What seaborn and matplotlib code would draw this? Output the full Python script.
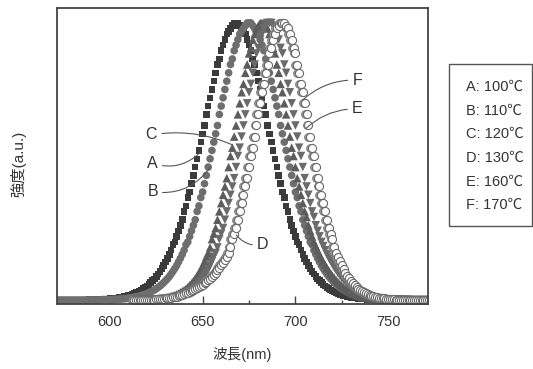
import numpy as np
import matplotlib
matplotlib.use("Agg")
import matplotlib.pyplot as plt
import seaborn as sns
from matplotlib.patches import Rectangle
from matplotlib.ticker import MultipleLocator

# ---------------- data (intensity, a.u., 1 nm step) ----------------
start_A = 572   # nm of first value in each list
start_B = 572
start_C = 612
start_D = 616
start_E = 612
start_F = 613

int_A = [0,0,0,0,0,0,0,0,0,0,0,
         0.1,0.1,0.1,0.1,0.1,0.1,0.2,0.2,0.2,0.2,0.2,0.2,
         0.3,0.3,0.3,0.4,0.4,0.5,0.5,0.6,0.7,0.8,0.9,1.0,1.2,1.3,
         1.5,1.7,1.9,2.1,2.4,2.7,3.0,3.3,3.7,4.1,
         4.6,5.1,5.7,6.3,7.0,7.7,8.5,9.4,10.4,11.4,
         12.5,13.8,15.1,16.5,18,20,21,23,25,27,
         29,32,34,37,39,42,45,48,51,54,
         57,60,63,67,70,73,76,79,82,85,
         87,90,92,94,96,97,98,99,100,100,
         100,99,98,97,96,94,92,90,87,
         85,82,79,76,73,70,67,63,60,57,
         54,51,48,45,42,39,37,34,32,29,
         27,25,23,21,20,18,16.5,15.1,13.8,12.5,
         11.4,10.4,9.4,8.5,7.7,7.0,6.3,5.7,5.1,4.6,
         4.1,3.7,3.3,3.0,2.7,2.4,2.1,1.9,1.7,1.5,
         1.3,1.2,1.0,0.9,0.8,0.7,0.6,0.5,0.5,0.4,
         0.4,0.3,0.3,0.3,0.2,0.2,0.2,0.2,0.2,0.2,
         0.1,0.1,0.1,0.1,0.1,0.1]

int_B = [0,0,0,0,0,0,0,0,0,0,0,0,0,0,0,0,0,0,
         0.1,0.1,0.1,0.1,0.1,0.1,0.2,0.2,0.2,0.2,0.2,0.2,
         0.3,0.3,0.3,0.4,0.4,0.5,0.5,0.6,0.7,0.8,0.9,1.0,1.2,1.3,
         1.5,1.7,1.9,2.1,2.4,2.7,3.0,3.3,3.7,4.1,
         4.6,5.1,5.7,6.3,7.0,7.7,8.5,9.4,10.4,11.4,
         12.5,13.8,15.1,16.5,18,20,21,23,25,27,
         29,32,34,37,39,42,45,48,51,54,
         57,60,63,67,70,73,76,79,82,85,
         87,90,92,94,96,97,98,99,100,100,
         100,99,98,97,96,94,92,90,87,
         85,82,79,76,73,70,67,63,60,57,
         54,51,48,45,42,39,37,34,32,29,
         27,25,23,21,20,18,16.5,15.1,13.8,12.5,
         11.4,10.4,9.4,8.5,7.7,7.0,6.3,5.7,5.1,4.6,
         4.1,3.7,3.3,3.0,2.7,2.4,2.1,1.9,1.7,1.5,
         1.3,1.2,1.0,0.9,0.8,0.7,0.6,0.5,0.5,0.4,
         0.4,0.3,0.3,0.3,0.2,0.2,0.2,0.2,0.2,0.2,
         0.1,0.1,0.1,0.1,0.1,0.1]

int_C = [0.1,0.1,0.1,0.1,0.1,0.1,0.2,0.2,0.2,0.2,
         0.3,0.3,0.4,0.4,0.5,0.6,0.6,0.7,0.9,1.0,1.2,
         1.4,1.6,1.8,2.1,2.4,2.8,3.2,3.6,4.1,4.7,
         5.4,6.1,6.9,7.8,8.8,9.9,11.1,12.5,14.0,15.7,
         17,19,22,24,26,29,32,35,38,41,
         44,48,52,55,59,63,67,71,75,78,
         82,85,89,91,94,96,98,99,100,100,
         100,99,98,96,94,91,89,85,82,
         78,75,71,67,63,59,55,52,48,44,
         41,38,35,32,30,27,25,23,21,19.5,
         18,16.5,15.2,14,12.8,11.7,10.7,9.7,8.8,8.0,
         7.2,6.5,5.8,5.2,4.6,4.1,3.6,3.2,2.8,2.4,
         2.1,1.8,1.6,1.4,1.2,1.0,0.9,0.8,0.7,0.6,
         0.5,0.4,0.4,0.3,0.3,0.2,0.2,0.2,0.2,0.2,
         0.2,0.1,0.1,0.1,0.1,0.1,
         0,0,0,0,0,0,0,0,0,0,0,0,0,0,0,0,0]

int_D = [0.1,0.1,0.1,0.1,0.1,0.1,0.2,0.2,0.2,0.2,
         0.3,0.3,0.4,0.4,0.5,0.6,0.6,0.7,0.9,1.0,1.2,
         1.4,1.6,1.8,2.1,2.4,2.8,3.2,3.6,4.1,4.7,
         5.4,6.1,6.9,7.8,8.8,9.9,11.1,12.5,14.0,15.7,
         17,19,22,24,26,29,32,35,38,41,
         44,48,52,55,59,63,67,71,75,78,
         82,85,89,91,94,96,98,99,100,100,
         100,99,98,96,94,91,89,85,82,
         78,75,71,67,63,59,55,52,48,44,
         41,38,35,32,30,27,25,23,21,19.5,
         18,16.5,15.2,14,12.8,11.7,10.7,9.7,8.8,8.0,
         7.2,6.5,5.8,5.2,4.6,4.1,3.6,3.2,2.8,2.4,
         2.1,1.8,1.6,1.4,1.2,1.0,0.9,0.8,0.7,0.6,
         0.5,0.4,0.4,0.3,0.3,0.2,0.2,0.2,0.2,0.2,
         0.2,0.1,0.1,0.1,0.1,0.1,
         0,0,0,0,0,0,0,0,0,0,0,0,0]

int_E = [0.1,0.1,0.1,0.1,0.1,0.2,0.2,0.2,0.2,0.2,0.2,0.2,
         0.3,0.3,0.4,0.4,0.5,0.6,0.7,0.8,0.9,
         1.0,1.2,1.3,1.5,1.7,1.9,2.1,2.4,2.6,2.9,
         3.2,3.5,3.9,4.2,4.6,5.0,5.5,6.0,6.5,7.1,
         7.7,8.4,9.1,9.9,10.7,11.6,12.5,13.5,14.6,15.7,
         17,19,22,24,26,29,32,35,38,41,
         44,48,52,55,59,63,67,71,75,78,
         82,85,89,91,94,96,98,99,100,100,
         100,99,98,96,94,91,89,85,82,
         78,75,71,67,63,59,55,52,48,44,
         41,38,35,32,29,26,24,22,19,17,
         15.7,14.0,12.5,11.1,9.9,8.8,7.8,6.9,6.1,5.4,
         4.7,4.1,3.6,3.2,2.8,2.4,2.1,1.8,1.6,1.4,
         1.2,1.0,0.9,0.7,0.6,0.6,0.5,0.4,0.4,0.3,
         0.3,0.2,0.2,0.2,0.2,0.1,0.1,0.1,0.1,0.1,0.1,
         0,0,0,0,0,0,0,0,0,0,0,0]

int_F = [0.1,0.1,0.1,0.1,0.1,0.2,0.2,0.2,0.2,0.2,0.2,0.2,
         0.3,0.3,0.4,0.4,0.5,0.6,0.7,0.8,0.9,
         1.0,1.2,1.3,1.5,1.7,1.9,2.1,2.4,2.6,2.9,
         3.2,3.5,3.9,4.2,4.6,5.0,5.5,6.0,6.5,7.1,
         7.7,8.4,9.1,9.9,10.7,11.6,12.5,13.5,14.6,15.7,
         17,19,22,24,26,29,32,35,38,41,
         44,48,52,55,59,63,67,71,75,78,
         82,85,89,91,94,96,98,99,100,100,
         100,99,98,96,94,91,89,85,82,
         78,75,71,67,63,59,55,52,48,44,
         41,38,35,32,29,26,24,22,19,17,
         15.7,14.0,12.5,11.1,9.9,8.8,7.8,6.9,6.1,5.4,
         4.7,4.1,3.6,3.2,2.8,2.4,2.1,1.8,1.6,1.4,
         1.2,1.0,0.9,0.7,0.6,0.6,0.5,0.4,0.4,0.3,
         0.3,0.2,0.2,0.2,0.2,0.1,0.1,0.1,0.1,0.1,0.1,
         0,0,0,0,0,0,0,0,0,0,0]

series_names = ["A", "B", "C", "D", "E", "F"]
legend_labels = ["A: 100\u2103", "B: 110\u2103", "C: 120\u2103",
                 "D: 130\u2103", "E: 160\u2103", "F: 170\u2103"]
x_ticks = [600, 650, 700, 750]
x_label = "波長(nm)"
y_label = "強度(a.u.)"

# callout labels: (letter, text position, pointed position, curvature) in data units
callouts = [("C", (622.4, 59.6), (666.1, 56.0), -0.15),
            ("A", (623.0, 49.4), (648.4, 53.1), 0.3),
            ("B", (623.0, 39.1), (653.8, 47.7), 0.3),
            ("D", (682.4, 20.1), (668.1, 23.5), -0.3),
            ("E", (733.3, 69.0), (705.8, 62.0), 0.2),
            ("F", (733.3, 79.4), (703.9, 72.2), 0.2)]

# ---------------- style ----------------
sns.set_theme(style="white")
plt.rcParams['font.family'] = ['Liberation Sans', 'Noto Sans CJK JP', 'DejaVu Sans']

styles = {
    "A": dict(marker="s", s=22, color="#3b3b3b", edgecolor="none", linewidth=0),
    "B": dict(marker="o", s=30, color="#6e6e6e", edgecolor="none", linewidth=0),
    "C": dict(marker="^", s=38, color="#5c5c5c", edgecolor="none", linewidth=0),
    "D": dict(marker="v", s=38, color="#6a6a6a", edgecolor="none", linewidth=0),
    "E": dict(marker="o", s=32, color="#9a9a9a", edgecolor="#7a7a7a", linewidth=0.6),
    "F": dict(marker="o", s=34, color="white", edgecolor="#6a6a6a", linewidth=0.8),
}

data = {"A": int_A, "B": int_B, "C": int_C, "D": int_D, "E": int_E, "F": int_F}
starts = {"A": start_A, "B": start_B, "C": start_C, "D": start_D,
          "E": start_E, "F": start_F}

W, H = 533, 369
fig = plt.figure(figsize=(W / 100, H / 100), dpi=100)
ax = fig.add_axes([56.5 / W, 1 - 304 / H, (428 - 56.5) / W, (304 - 7.7) / H])

for i, name in enumerate(series_names):
    vals = data[name]
    wl = np.arange(starts[name], starts[name] + len(vals))
    sns.scatterplot(x=wl, y=vals, ax=ax, legend=False, zorder=2 + i, **styles[name])

ax.set_xlim(571.2, 771.5)
ax.set_ylim(-1.4, 105.5)
ax.set_xticks(x_ticks)
ax.set_xticklabels([str(t) for t in x_ticks])
ax.xaxis.set_minor_locator(MultipleLocator(25))
ax.set_yticks([])
ax.tick_params(axis="x", which="major", direction="in", length=5.5, width=1,
               color="#444444", labelsize=10.5, labelcolor="#333333", pad=8,
               bottom=True, top=False)
ax.tick_params(axis="x", which="minor", direction="in", length=3, width=1,
               color="#444444", bottom=True, top=False)
ax.set_xlabel("")
ax.set_ylabel("")
for sp in ax.spines.values():
    sp.set_color("#444444")
    sp.set_linewidth(1.3)
    sp.set_zorder(20)

for letter, txt_pos, pt, rad in callouts:
    ax.annotate(letter, xy=pt, xytext=txt_pos, fontsize=11.5, color="#333333",
                ha="center", va="center", zorder=30,
                arrowprops=dict(arrowstyle="-", color="#555555", lw=0.8,
                                shrinkA=1, shrinkB=0,
                                connectionstyle=f"arc3,rad={rad}"))

fig.text(242 / W, 1 - 355 / H, x_label, ha="center", va="center",
         fontsize=10.5, color="#333333")
fig.text(18 / W, 1 - 164 / H, y_label, ha="center", va="center",
         rotation=90, fontsize=11, color="#333333")

# legend box (text-only)
fig.patches.append(Rectangle((449 / W, 1 - 226 / H), (532 - 449) / W, (226 - 64) / H,
                             transform=fig.transFigure, facecolor="white",
                             edgecolor="#555555", linewidth=1.0))
leg_y = [87, 110.6, 134.2, 157.8, 181.4, 205]
for lab, yy in zip(legend_labels, leg_y):
    fig.text(466 / W, 1 - yy / H, lab, ha="left", va="center",
             fontsize=10.5, color="#333333")

fig.savefig("out.png", dpi=100)
